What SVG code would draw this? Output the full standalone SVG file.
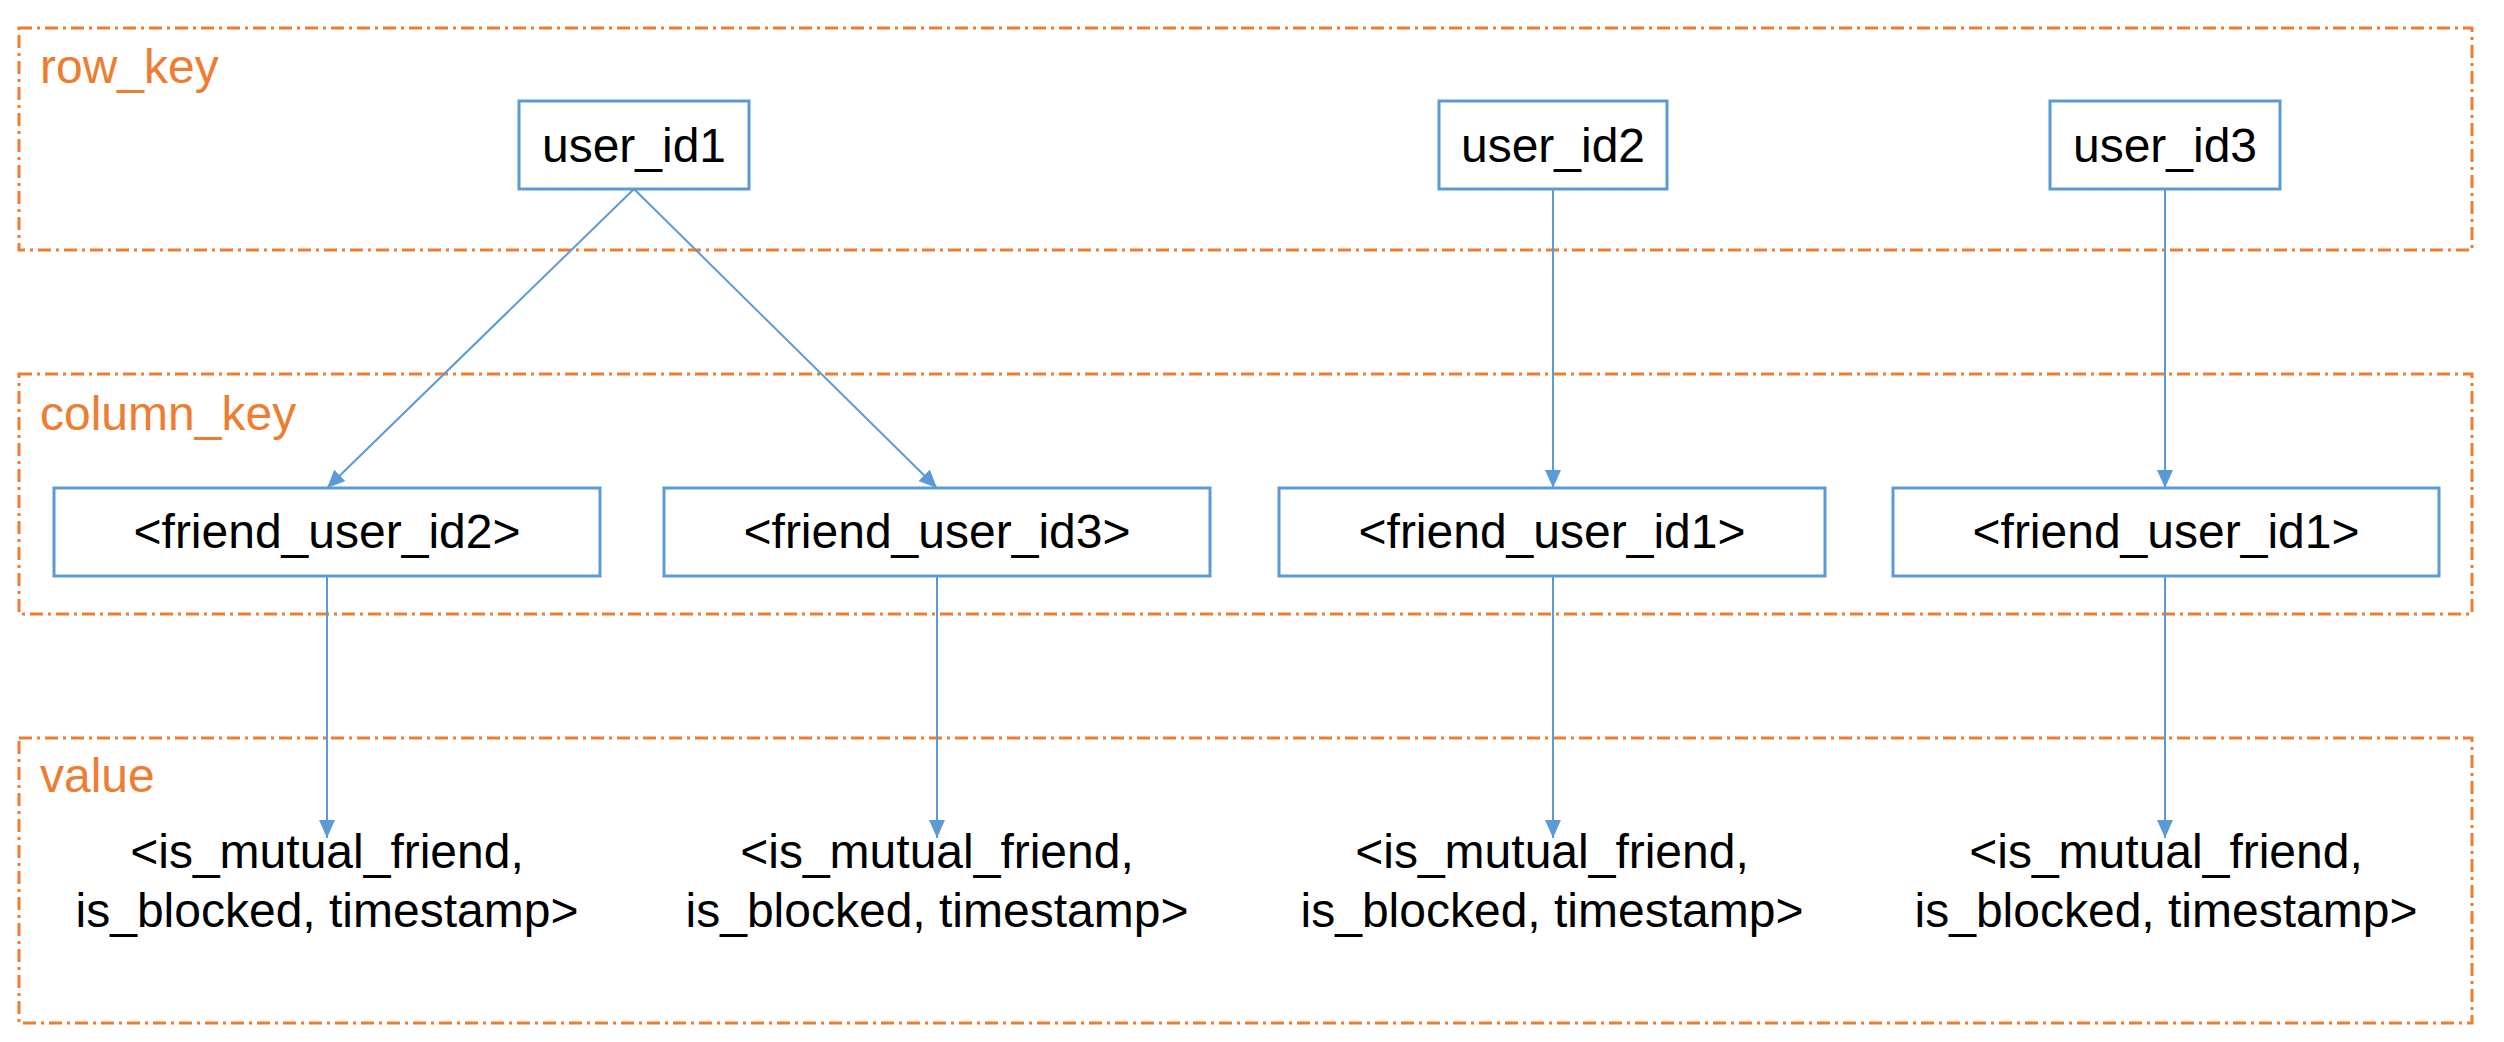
<svg xmlns="http://www.w3.org/2000/svg" width="2504" height="1042" viewBox="0 0 2504 1042">
<defs>
<marker id="arr" markerUnits="userSpaceOnUse" markerWidth="18" markerHeight="16" viewBox="0 0 18 16" refX="18" refY="8" orient="auto">
<path d="M0,0 L18,8 L0,16 Z" fill="#5B9BD5"/>
</marker>
<style>
.grp{fill:none;stroke:#ED7D31;stroke-width:3;stroke-dasharray:13 5 3 5}
.lbl{font-family:"Liberation Sans",Arial,sans-serif;font-size:48px;fill:#ED7D31}
.box{fill:#fff;stroke:#5B9BD5;stroke-width:3}
.t{font-family:"Liberation Sans",Arial,sans-serif;font-size:48px;fill:#000;text-anchor:middle}
.con{stroke:#5B9BD5;stroke-width:2;fill:none;marker-end:url(#arr)}
</style>
</defs>
<rect width="2504" height="1042" fill="#fff"/>
<g id="group-row_key">
<rect class="grp" x="19" y="28" width="2453" height="222"/>
<text class="lbl" x="40" y="83">row_key</text>
</g>
<g id="group-column_key">
<rect class="grp" x="19" y="374" width="2453" height="240"/>
<text class="lbl" x="40" y="430">column_key</text>
</g>
<g id="group-value">
<rect class="grp" x="19" y="738" width="2453" height="285"/>
<text class="lbl" x="40" y="792">value</text>
</g>
<g id="connectors">
<line class="con" x1="634" y1="189" x2="327" y2="488"/>
<line class="con" x1="634" y1="189" x2="937" y2="488"/>
<line class="con" x1="1553" y1="189" x2="1553" y2="488"/>
<line class="con" x1="2165" y1="189" x2="2165" y2="488"/>
<line class="con" x1="327" y1="576" x2="327" y2="838"/>
<line class="con" x1="937" y1="576" x2="937" y2="838"/>
<line class="con" x1="1553" y1="576" x2="1553" y2="838"/>
<line class="con" x1="2165" y1="576" x2="2165" y2="838"/>
</g>
<g id="user_id1"><rect class="box" x="519" y="101" width="230" height="88"/><text class="t" x="634" y="162">user_id1</text></g>
<g id="user_id2"><rect class="box" x="1439" y="101" width="228" height="88"/><text class="t" x="1553" y="162">user_id2</text></g>
<g id="user_id3"><rect class="box" x="2050" y="101" width="230" height="88"/><text class="t" x="2165" y="162">user_id3</text></g>
<g id="friend_user_id2"><rect class="box" x="54" y="488" width="546" height="88"/><text class="t" x="327" y="548">&lt;friend_user_id2&gt;</text></g>
<g id="friend_user_id3"><rect class="box" x="664" y="488" width="546" height="88"/><text class="t" x="937" y="548">&lt;friend_user_id3&gt;</text></g>
<g id="friend_user_id1a"><rect class="box" x="1279" y="488" width="546" height="88"/><text class="t" x="1552" y="548">&lt;friend_user_id1&gt;</text></g>
<g id="friend_user_id1b"><rect class="box" x="1893" y="488" width="546" height="88"/><text class="t" x="2166" y="548">&lt;friend_user_id1&gt;</text></g>
<g id="value1"><text class="t" x="327" y="868">&lt;is_mutual_friend,</text><text class="t" x="327" y="927">is_blocked, timestamp&gt;</text></g>
<g id="value2"><text class="t" x="937" y="868">&lt;is_mutual_friend,</text><text class="t" x="937" y="927">is_blocked, timestamp&gt;</text></g>
<g id="value3"><text class="t" x="1552" y="868">&lt;is_mutual_friend,</text><text class="t" x="1552" y="927">is_blocked, timestamp&gt;</text></g>
<g id="value4"><text class="t" x="2166" y="868">&lt;is_mutual_friend,</text><text class="t" x="2166" y="927">is_blocked, timestamp&gt;</text></g>
</svg>
